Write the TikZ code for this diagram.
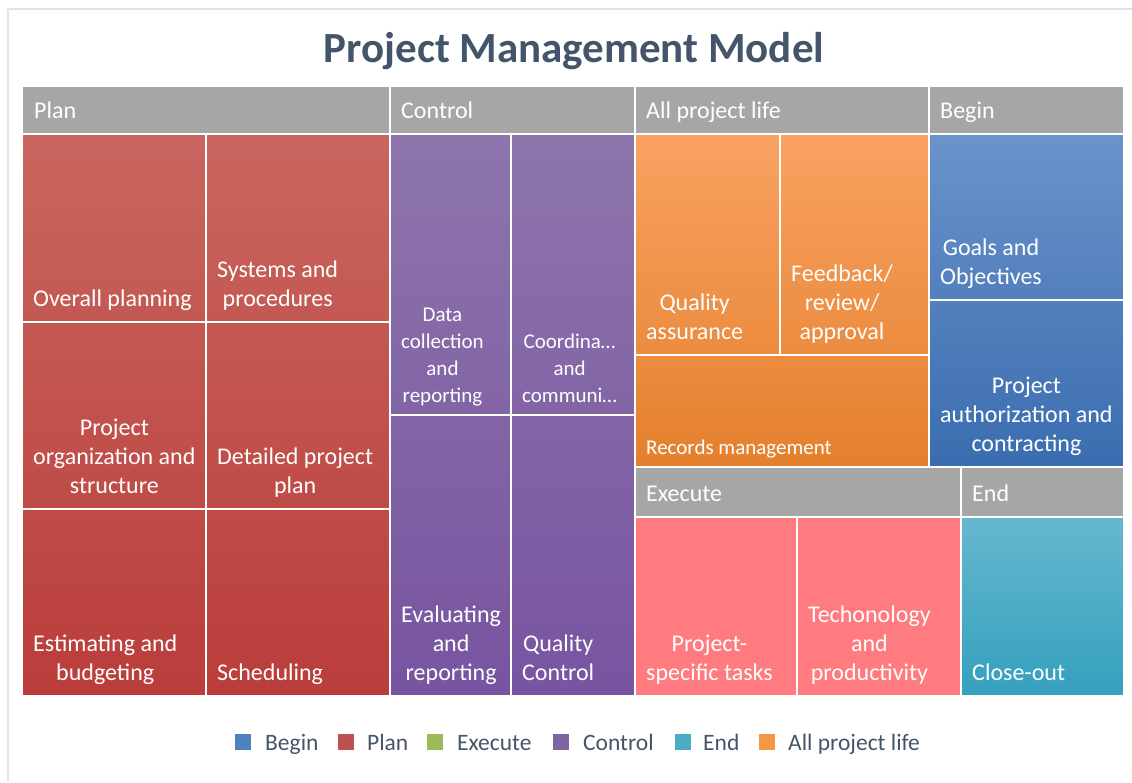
\documentclass[tikz,border=0pt]{standalone}
\usepackage{fontspec}
\setmainfont{Carlito}
\definecolor{hdrgray}{HTML}{A6A6A6}
\definecolor{plantop}{HTML}{C9665F}
\definecolor{planbot}{HTML}{BA3D3A}
\definecolor{ctrltop}{HTML}{8E75AC}
\definecolor{ctrlbot}{HTML}{7754A0}
\definecolor{lifetop}{HTML}{F9A262}
\definecolor{lifebot}{HTML}{E4802D}
\definecolor{begintop}{HTML}{6A93CA}
\definecolor{beginbot}{HTML}{3A6DB0}
\definecolor{execfill}{HTML}{FF7B80}
\definecolor{endtop}{HTML}{65B8CE}
\definecolor{endbot}{HTML}{34A0BE}
\definecolor{keybegin}{HTML}{4F81BD}
\definecolor{keyplan}{HTML}{C0504D}
\definecolor{keyexec}{HTML}{9BBB59}
\definecolor{keyctrl}{HTML}{8064A2}
\definecolor{keyend}{HTML}{4BACC6}
\definecolor{keylife}{HTML}{F79646}
\definecolor{inktxt}{HTML}{44546A}
\definecolor{framecol}{HTML}{DCE4EE}
\tikzset{
  cellline/.style={draw=white,line width=2pt},
  hdr/.style={fill=hdrgray,draw=white,line width=2pt},
  lbl/.style={text=white,font=\fontsize{24}{29}\selectfont,align=center,
    inner sep=0pt,anchor=south west,yshift=-4.5pt,execute at end node=\strut},
  lblsmall/.style={lbl,font=\fontsize{21}{27}\selectfont},
  hdrlbl/.style={text=white,font=\fontsize{24}{29}\selectfont,inner sep=0pt,anchor=base west},
  keybox/.style={minimum size=16pt,inner sep=0pt,anchor=west},
  keylbl/.style={text=inktxt,font=\fontsize{23.5}{28}\selectfont,inner sep=0pt,anchor=base west}
}

\begin{document}
\begin{tikzpicture}[x=1pt,y=1pt]
      \useasboundingbox (0,0) rectangle (1132,-782);
      \draw[framecol,line width=2pt] (8,-782) -- (8,-9) -- (1132,-9);
      \node[font=\bfseries\fontsize{43}{50}\selectfont,text=inktxt,anchor=base] (title)
        at (574,-62) {Project Management Model};
      % group fills
      \shade[top color=plantop,bottom color=planbot] (22,-134) rectangle (390,-696);
      \shade[top color=ctrltop,bottom color=ctrlbot] (390,-134) rectangle (635,-696);
      \shade[top color=lifetop,bottom color=lifebot] (635,-134) rectangle (929,-467);
      \shade[top color=begintop,bottom color=beginbot] (929,-134) rectangle (1124,-467);
      \fill[execfill] (635,-517) rectangle (961,-696);
      \shade[top color=endtop,bottom color=endbot] (961,-517) rectangle (1124,-696);
      % headers
      \foreach \xa/\ya/\xb/\yb in {22/86/390/134, 390/86/635/134, 635/86/929/134,
          929/86/1124/134, 635/467/961/517, 961/467/1124/517}
        \draw[hdr] (\xa,-\ya) rectangle (\xb,-\yb);
      % cells
      \foreach \xa/\ya/\xb/\yb in {22/134/206/322, 206/134/390/322, 22/322/206/509,
          206/322/390/509, 22/509/206/696, 206/509/390/696,
          390/134/511/415, 511/134/635/415, 390/415/511/696, 511/415/635/696,
          635/134/780/355, 780/134/929/355, 635/355/929/467,
          929/134/1124/300, 929/300/1124/467,
          635/517/797/696, 797/517/961/696, 961/517/1124/696}
        \draw[cellline] (\xa,-\ya) rectangle (\xb,-\yb);
      % header labels
      \node[hdrlbl] (hplan)  at (34,-118)  {Plan};
      \node[hdrlbl] (hctrl)  at (401,-118) {Control};
      \node[hdrlbl] (hlife)  at (646,-118) {All project life};
      \node[hdrlbl] (hbegin) at (940,-118) {Begin};
      \node[hdrlbl] (hexec)  at (646,-501) {Execute};
      \node[hdrlbl] (hend)   at (972,-501) {End};
      % cell labels
      \node[lbl] (overall)  at (33,-311)  {Overall planning};
      \node[lbl] (systems)  at (217,-311) {Systems and\\procedures};
      \node[lbl] (organize) at (33,-498)  {Project\\organization and\\structure};
      \node[lbl] (detailed) at (217,-498) {Detailed project\\plan};
      \node[lbl] (estimate) at (33,-685)  {Estimating and\\budgeting};
      \node[lbl] (schedule) at (217,-685) {Scheduling};
      \node[lblsmall] (datacoll) at (401,-406) {Data\\collection\\and\\reporting};
      \node[lblsmall] (coordin)  at (522,-406) {Coordina…\\and\\communi…};
      \node[lbl] (evaluate) at (401,-685) {Evaluating\\and\\reporting};
      \node[lbl] (qcontrol) at (522,-685) {Quality\\Control};
      \node[lbl] (qassure)  at (646,-344) {Quality\\assurance};
      \node[lbl] (feedback) at (791,-344) {Feedback/\\review/\\approval};
      \node[lblsmall] (records) at (646,-458) {Records management};
      \node[lbl] (goals)    at (940,-289) {Goals and\\Objectives};
      \node[lbl] (authorize) at (940,-456) {Project\\authorization and\\contracting};
      \node[lbl] (tasks)    at (646,-685) {Project-\\specific tasks};
      \node[lbl] (techno)   at (808,-685) {Techonology\\and\\productivity};
      \node[lbl] (closeout) at (972,-685) {Close-out};
      % legend
      \foreach \k/\col/\sx/\tx/\txt in {begin/keybegin/235/265/Begin, plan/keyplan/338/367/Plan,
          exec/keyexec/427/457/Execute, ctrl/keyctrl/553/583/Control,
          end/keyend/675/703/End, life/keylife/759/788/All project life}
      {
        \node[keybox,fill=\col] (key\k) at (\sx,-742) {};
        \node[keylbl] (keytxt\k) at (\tx,-750) {\txt};
      }
\end{tikzpicture}
\end{document}
